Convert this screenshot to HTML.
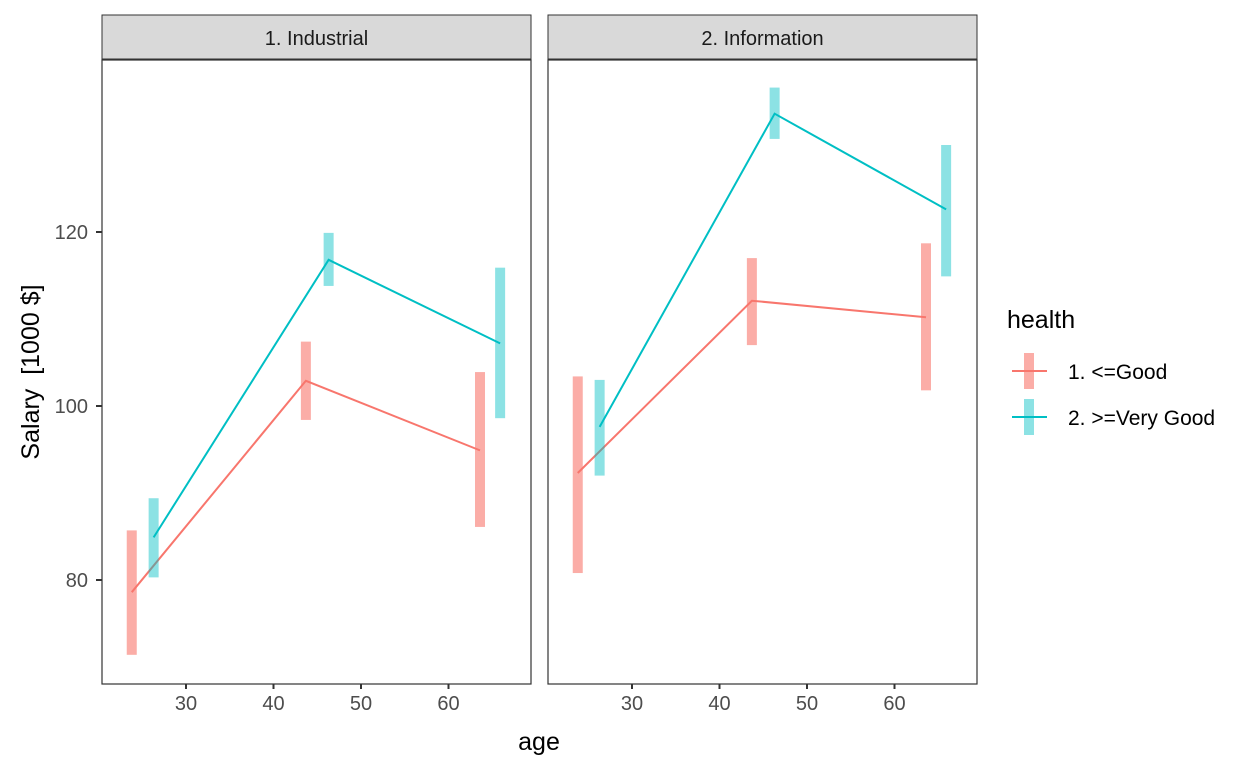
<!DOCTYPE html>
<html><head><meta charset="utf-8"><style>
body{margin:0;background:#fff;font-family:"Liberation Sans",sans-serif}
svg text{font-family:"Liberation Sans",sans-serif}
</style></head><body>
<svg id="c" width="1248" height="768" xmlns="http://www.w3.org/2000/svg"></svg>
<script>
const panels = ["1. Industrial","2. Information"];
const groups = ["1. <=Good","2. >=Very Good"];
const xTicks = [30,40,50,60];
const yTicks = [80,100,120];
const redX = [23.8,43.7,63.6];
const tealX = [26.3,46.3,65.9];
// [panel][point]
const redMean = [[78.6,102.9,94.9],[92.3,112.1,110.2]];
const redLo = [[71.4,98.4,86.1],[80.8,107,101.8]];
const redHi = [[85.7,107.4,103.9],[103.4,117,118.7]];
const tealMean = [[84.9,116.8,107.2],[97.6,133.6,122.6]];
const tealLo = [[80.3,113.8,98.6],[92,130.7,114.9]];
const tealHi = [[89.4,119.9,115.9],[103,136.6,130]];

const svg=document.getElementById('c');
const NS='http://www.w3.org/2000/svg';
function mk(t,a,p){const e=document.createElementNS(NS,t);for(const k in a)e.setAttribute(k,a[k]);(p||svg).appendChild(e);return e;}
const panelX0=[102,548], PW=429, PT=60, PB=684;
function sx(p,v){return panelX0[p]+84+(v-30)*8.75;}
function sy(v){return 406-(v-100)*8.7;}
const colors={red:"#F8766D",teal:"#00BFC4"};
panels.forEach((name,p)=>{
  const g=mk('g',{});
  
  
  const st=mk('rect',{x:panelX0[p],y:15,width:PW,height:44,fill:'#d9d9d9',stroke:'#333','stroke-width':1},g);
  
  
  const tt=mk('text',{x:panelX0[p]+PW/2,y:45,'text-anchor':'middle','font-size':20,fill:'#1a1a1a'},g);
  tt.textContent=name;
  
  
  const bg=mk('rect',{x:panelX0[p],y:PT,width:PW,height:PB-PT,fill:'#fff',stroke:'#333','stroke-width':1.2},g);
  
  
  xTicks.forEach(t=>{
    const x=sx(p,t);
    mk('line',{x1:x,x2:x,y1:PB,y2:PB+5,stroke:'#333','stroke-width':2},g);
    const tx=mk('text',{x:x,y:PB+26,'text-anchor':'middle','font-size':20,fill:'#4d4d4d'},g);
    tx.textContent=t;
    
    
  });
  if(p===0){yTicks.forEach(t=>{
    const y=sy(t);
    mk('line',{x1:96,x2:102,y1:y,y2:y,stroke:'#333','stroke-width':2},g);
    const ty=mk('text',{x:88,y:y+7,'text-anchor':'end','font-size':20,fill:'#4d4d4d'},g);
    ty.textContent=t;
    
    
  });}
  [[redX,redMean,redLo,redHi,colors.red,'red',0.6],[tealX,tealMean,tealLo,tealHi,colors.teal,'teal',0.45]].forEach(([xs,m,lo,hi,c,n,op])=>{
    xs.forEach((xv,i)=>{
      const x=sx(p,xv);
      const r=mk('rect',{x:x-5,y:sy(hi[p][i]),width:10,height:sy(lo[p][i])-sy(hi[p][i]),fill:c,'fill-opacity':op},g);
      
      
    });
    const pl=mk('polyline',{points:xs.map((xv,i)=>sx(p,xv)+','+sy(m[p][i])).join(' '),fill:'none',stroke:c,'stroke-width':2},g);
    
    
  });
});
const xl=mk('text',{x:539,y:750,'text-anchor':'middle','font-size':25,fill:'#000'});
xl.textContent='age';


const yl=mk('text',{x:0,y:0,'text-anchor':'middle','font-size':25,fill:'#000',transform:'translate(39,372) rotate(-90)',style:'white-space:pre'});
yl.textContent='Salary  [1000 $]';


const lt=mk('text',{x:1007,y:328,'font-size':25,fill:'#000'});
lt.textContent='health';


[[colors.red,0.6,371],[colors.teal,0.45,417]].forEach(([c,op,y],i)=>{
  const g=mk('g',{});
  
  
  mk('rect',{x:1024,y:y-18,width:10,height:36,fill:c,'fill-opacity':op},g);
  mk('line',{x1:1012,x2:1047,y1:y,y2:y,stroke:c,'stroke-width':2},g);
  const t=mk('text',{x:1068,y:y+8,'font-size':21,fill:'#000'},g);
  t.textContent=groups[i];
});
</script>
</body></html>
